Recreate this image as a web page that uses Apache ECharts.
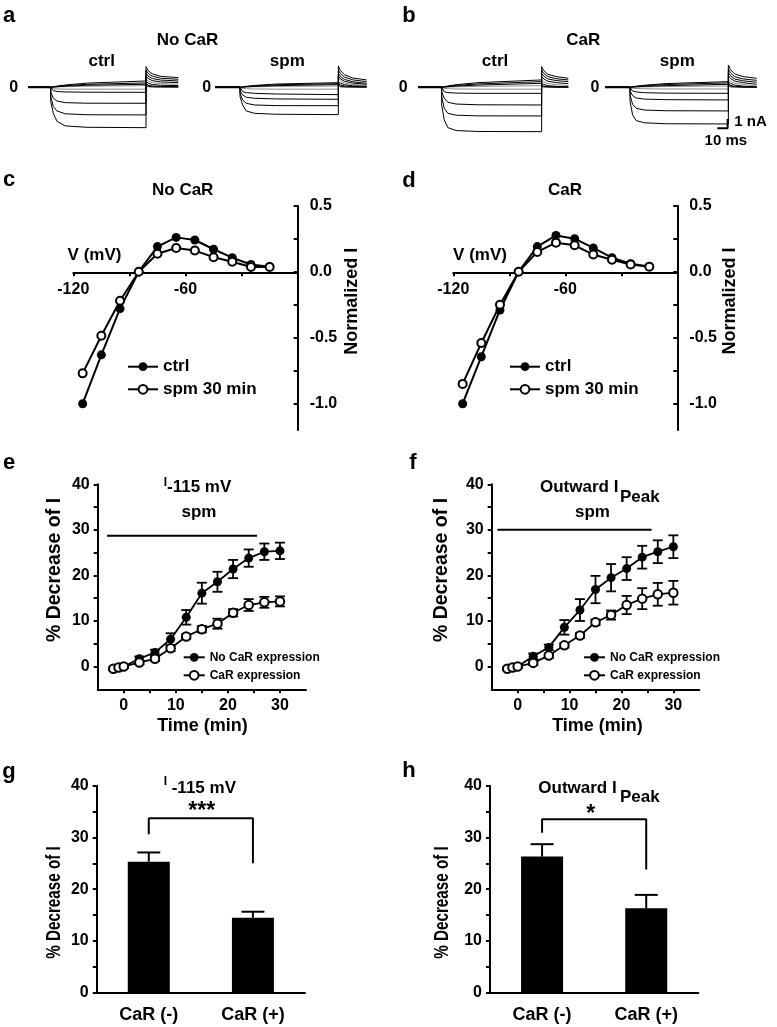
<!DOCTYPE html>
<html><head><meta charset="utf-8">
<script src="https://cdn.jsdelivr.net/npm/echarts@6/dist/echarts.min.js"></script>
<style>html,body{margin:0;padding:0;background:#fff}#c{width:777px;height:1027px}</style>
</head><body><div id="c"></div>
<script>
// ================= DATA =================
// Current traces (panels a, b): time in ms, current in nA
const STEP_T = [0, 2.5, 6, 14, 35];      // sample times after step onset (last value = at step end)
const TAIL_T = [0, 2, 6, 14];            // sample times after step end (last value = at sweep end)
// [onset, offset, end] per panel (ms)
const A_CTRL_TIMES = [21.7, 113.8, 145];
const A_SPM_TIMES  = [24.2, 119.3, 146.7];
const B_CTRL_TIMES = [22.9, 119.6, 145.4];
const B_SPM_TIMES  = [24.2, 119.3, 146.7];

const A_CTRL_STEP = [
  [-1.54,-2.8,-3.66,-4.15,-4.3,-4.34],
  [-1.0,-2.08,-2.54,-2.85,-2.95,-2.97],
  [-0.54,-1.18,-1.47,-1.65,-1.71,-1.72],
  [-0.2,-0.35,-0.45,-0.5,-0.53,-0.54],
  [-0.1,-0.15,-0.18,-0.2,-0.2,-0.2],
  [0,0.05,0.12,0.25,0.45,0.68],
  [0,0.04,0.09,0.18,0.32,0.47],
  [0,0.03,0.06,0.12,0.22,0.32],
  [0,0.02,0.04,0.07,0.12,0.18]
];
const A_CTRL_TAIL = [
  [2.22,1.8,1.45,1.18,1.04],
  [1.86,1.5,1.2,0.98,0.86],
  [1.5,1.2,0.95,0.78,0.68],
  [1.22,0.95,0.72,0.58,0.5],
  [0.9,0.7,0.5,0.4,0.32],
  [0.61,0.45,0.3,0.22,0.18],
  [0.32,0.22,0.14,0.1,0.07],
  [0.15,0.1,0.06,0.04,0.03],
  [0.06,0.04,0.02,0.01,0.0]
];
const A_SPM_STEP = [
  [-1.0,-1.9,-2.54,-2.8,-2.9,-2.94],
  [-0.65,-1.36,-1.72,-1.9,-1.97,-1.98],
  [-0.4,-0.82,-1.07,-1.18,-1.25,-1.29],
  [-0.2,-0.47,-0.57,-0.65,-0.72,-0.79],
  [-0.08,-0.12,-0.15,-0.18,-0.2,-0.2],
  [0,0.04,0.1,0.2,0.35,0.5],
  [0,0.03,0.08,0.15,0.27,0.39],
  [0,0.02,0.05,0.1,0.18,0.29],
  [0,0.01,0.03,0.06,0.1,0.14]
];
const A_SPM_TAIL = [
  [2.3,1.8,1.35,1.0,0.79],
  [1.86,1.45,1.1,0.8,0.61],
  [1.5,1.15,0.85,0.6,0.43],
  [1.22,0.9,0.65,0.45,0.32],
  [0.97,0.7,0.45,0.3,0.2],
  [0.68,0.45,0.28,0.16,0.1],
  [0.39,0.25,0.14,0.08,0.05],
  [0.18,0.1,0.05,0.03,0.02],
  [0.06,0.03,0.02,0.01,0.0]
];
const B_CTRL_STEP = [
  [-1.9,-3.5,-4.34,-4.65,-4.75,-4.77],
  [-1.0,-2.26,-2.8,-3.0,-3.07,-3.08],
  [-0.47,-1.18,-1.61,-1.8,-1.88,-1.9],
  [-0.2,-0.47,-0.57,-0.62,-0.65,-0.65],
  [-0.08,-0.12,-0.15,-0.18,-0.2,-0.2],
  [0,0.06,0.14,0.28,0.5,0.79],
  [0,0.05,0.1,0.2,0.36,0.61],
  [0,0.03,0.06,0.13,0.24,0.43],
  [0,0.02,0.03,0.06,0.1,0.18]
];
const B_CTRL_TAIL = [
  [2.22,1.8,1.4,1.15,0.97],
  [1.86,1.5,1.15,0.92,0.79],
  [1.5,1.2,0.9,0.72,0.61],
  [1.15,0.9,0.65,0.5,0.39],
  [0.79,0.6,0.4,0.28,0.18],
  [0.43,0.3,0.18,0.1,0.04],
  [0.18,0.12,0.06,0.03,0.02],
  [0.1,0.06,0.04,0.02,0.01],
  [0.05,0.03,0.02,0.01,0.0]
];
const B_SPM_STEP = [
  [-1.54,-2.97,-3.58,-3.82,-3.92,-3.94],
  [-0.82,-1.83,-2.26,-2.45,-2.52,-2.54],
  [-0.4,-0.9,-1.15,-1.27,-1.33,-1.36],
  [-0.18,-0.4,-0.5,-0.58,-0.63,-0.65],
  [-0.06,-0.1,-0.13,-0.16,-0.18,-0.18],
  [0,0.05,0.12,0.22,0.4,0.61],
  [0,0.04,0.09,0.17,0.3,0.47],
  [0,0.02,0.05,0.1,0.18,0.32],
  [0,0.01,0.03,0.05,0.09,0.14]
];
const B_SPM_TAIL = [
  [2.4,1.9,1.45,1.15,0.97],
  [1.97,1.55,1.15,0.9,0.75],
  [1.6,1.25,0.9,0.7,0.54],
  [1.25,0.95,0.68,0.5,0.32],
  [0.9,0.65,0.45,0.3,0.14],
  [0.61,0.42,0.25,0.12,0.04],
  [0.32,0.2,0.1,0.05,0.02],
  [0.12,0.08,0.05,0.02,0.01],
  [0.05,0.03,0.02,0.01,0.0]
];
const SCALE_BAR = [[108.6,-4.41],[118.6,-4.41],[118.6,-3.41]]; // 10 ms, 1 nA

// I-V curves (panels c, d)
const IV_V   = [-115,-105,-95,-85,-75,-65,-55,-45,-35,-25,-15];
const C_CTRL = [-1.0,-0.63,-0.28,0.0,0.19,0.26,0.24,0.17,0.106,0.055,0.038];
const C_SPM  = [-0.77,-0.485,-0.22,0.0,0.136,0.18,0.16,0.11,0.076,0.035,0.035];
const D_CTRL = [-1.0,-0.644,-0.29,0.0,0.19,0.275,0.25,0.18,0.106,0.06,0.04];
const D_SPM  = [-0.85,-0.54,-0.25,0.0,0.15,0.22,0.2,0.13,0.09,0.055,0.038];
const IV_X_TICKS = [-120,-90,-60,-30];
const IV_X_LABELS = [-120,-60];
const IV_Y_TICKS = [-1,-0.75,-0.5,-0.25,0,0.25,0.5];
const IV_Y_LABELS = [-1,-0.5,0,0.5];

// Time courses (panels e, f)
const TIME = [-2,-1,0,3,6,9,12,15,18,21,24,27,30];
const E_NOCAR     = [-0.5,-0.2,0,1.7,3.1,6.0,10.8,16.1,18.6,21.4,23.8,25.2,25.4];
const E_NOCAR_ERR = [0.3,0.3,0.3,0.5,0.6,1.3,1.6,2.3,2.2,2.0,1.9,1.8,1.8];
const E_CAR       = [-0.5,-0.2,0,0.9,1.7,4.0,6.6,8.2,9.4,11.8,13.5,14.1,14.3];
const E_CAR_ERR   = [0.3,0.3,0.3,0.4,0.5,0.6,0.5,0.7,1.1,0.8,1.3,1.2,1.1];
const F_NOCAR     = [-0.5,-0.2,0,2.25,4.2,8.6,12.4,16.9,19.5,21.5,24.0,25.2,26.3];
const F_NOCAR_ERR = [0.3,0.3,0.3,0.6,0.6,1.6,2.4,3.0,3.0,2.5,2.5,2.5,2.5];
const F_CAR       = [-0.5,-0.2,0,0.8,2.4,4.65,6.8,9.7,11.3,13.5,14.9,15.85,16.2];
const F_CAR_ERR   = [0.3,0.3,0.3,0.5,0.5,0.5,0.5,0.6,1.0,2.0,2.3,2.5,2.6];
const E_SPM_BAR = [[-3.2,28.7],[25.6,28.7]];
const F_SPM_BAR = [[-3.9,30.0],[25.8,30.0]];
const TC_X_TICKS = [0,5,10,15,20,25,30];
const TC_X_LABELS = [0,10,20,30];
const PCT_TICKS = [0,5,10,15,20,25,30,35,40];
const PCT_LABELS = [0,10,20,30,40];

// Bar charts (panels g, h)
const CATS = ['CaR (-)','CaR (+)'];
const G_MEAN = [25.3,14.5];
const G_ERR  = [1.8,1.15];
const H_MEAN = [26.3,16.3];
const H_ERR  = [2.4,2.6];
const G_BRACKET = [[0,30.6],[0,33.7],[1,33.7],[1,25.0]];
const H_BRACKET = [[0,30.9],[0,33.5],[1,33.5],[1,23.8]];

// ================= CHART =================
const FONT = '"Liberation Sans", Arial, Helvetica, sans-serif';
const BLACK = '#000';
const axLine = {show:true, onZero:false, lineStyle:{color:BLACK, width:2}};
const tickStyle = {color:BLACK, width:2};
const lbl = (size, extra) => Object.assign({color:BLACK, fontFamily:FONT, fontWeight:'bold', fontSize:size}, extra||{});

const grids = [
  {left:28.3, top:63.12, width:150, height:70.68},
  {left:215, top:63.12, width:151.7, height:70.68},
  {left:418, top:63.12, width:150.3, height:70.68},
  {left:605, top:63.12, width:151.7, height:70.68},
  {left:73.3, top:205.7, width:224.4, height:224.4},
  {left:453.3, top:205.7, width:224, height:224.4},
  {left:97.7, top:484.3, width:208.3, height:205},
  {left:491.7, top:484.3, width:207.6, height:205},
  {left:96.7, top:785.7, width:208.3, height:207},
  {left:490, top:785.7, width:208.3, height:207}
];

const xAxes = [], yAxes = [];
[A_CTRL_TIMES, A_SPM_TIMES, B_CTRL_TIMES, B_SPM_TIMES].forEach((t, i) => {
  xAxes.push({gridIndex:i, type:'value', min:0, max:t[2], show:false});
  yAxes.push({gridIndex:i, type:'value', min:-5, max:2.6, show:false});
});
[4,5].forEach(g => {
  // x axis sits on the y = 0 line (0.0 is 157.8 px above the -1.2 bottom)
  xAxes.push({gridIndex:g, type:'value', min:-120, max:0, position:'bottom', offset:-157.8,
    axisLine:{show:true, onZero:false, lineStyle:{color:BLACK, width:2}},
    axisTick:{show:true, customValues:IV_X_TICKS, length:4, lineStyle:tickStyle},
    axisLabel:lbl(16,{customValues:IV_X_LABELS, margin:9}),
    splitLine:{show:false}});
  yAxes.push({gridIndex:g, type:'value', position:'right', min:-1.2, max:0.5,
    axisLine:axLine,
    axisTick:{show:true, inside:true, customValues:IV_Y_TICKS, length:4, lineStyle:tickStyle},
    axisLabel:lbl(16,{customValues:IV_Y_LABELS, margin:12, formatter:v => Number(v).toFixed(1)}),
    splitLine:{show:false}});
});
[6,7].forEach(g => {
  xAxes.push({gridIndex:g, type:'value', min:-5, max:35, axisLine:axLine,
    axisTick:{show:true, customValues:TC_X_TICKS, length:4, lineStyle:tickStyle},
    axisLabel:lbl(16,{customValues:TC_X_LABELS, margin:8}),
    splitLine:{show:false}});
  yAxes.push({gridIndex:g, type:'value', min:-5, max:40, axisLine:axLine,
    axisTick:{show:true, customValues:PCT_TICKS, length:4, lineStyle:tickStyle},
    axisLabel:lbl(16,{customValues:PCT_LABELS, margin:8}),
    splitLine:{show:false}});
});
[8,9].forEach(g => {
  xAxes.push({gridIndex:g, type:'category', data:CATS, axisLine:axLine,
    axisTick:{show:false}, axisLabel:lbl(18,{margin:13}), splitLine:{show:false}});
  yAxes.push({gridIndex:g, type:'value', min:0, max:40, axisLine:axLine,
    axisTick:{show:true, customValues:PCT_TICKS, length:4, lineStyle:tickStyle},
    axisLabel:lbl(16,{customValues:PCT_LABELS, margin:8}),
    splitLine:{show:false}});
});

const series = [];
const GRAY = [4, 8];
function addTraces(g, times, steps, tails) {
  const [tOn, tOff, tEnd] = times;
  series.push({type:'line', xAxisIndex:g, yAxisIndex:g, data:[[0,0],[tOn,0]], symbol:'none',
    lineStyle:{color:BLACK, width:2}, silent:true, z:3});
  steps.forEach((row, k) => {
    const pts = [[0,0],[tOn,0]];
    STEP_T.forEach((dt, i) => pts.push([tOn + dt, row[i]]));
    pts.push([tOff, row[row.length - 1]]);
    const tl = tails[k];
    TAIL_T.forEach((dt, i) => pts.push([tOff + dt, tl[i]]));
    pts.push([tEnd, tl[tl.length - 1]]);
    const gray = GRAY.includes(k);
    series.push({type:'line', xAxisIndex:g, yAxisIndex:g, data:pts, symbol:'none', silent:true,
      lineStyle:{color: gray ? '#8c8c8c' : BLACK, width:1}, z: gray ? 1 : 2});
  });
}
addTraces(0, A_CTRL_TIMES, A_CTRL_STEP, A_CTRL_TAIL);
addTraces(1, A_SPM_TIMES, A_SPM_STEP, A_SPM_TAIL);
addTraces(2, B_CTRL_TIMES, B_CTRL_STEP, B_CTRL_TAIL);
addTraces(3, B_SPM_TIMES, B_SPM_STEP, B_SPM_TAIL);
series.push({type:'line', xAxisIndex:3, yAxisIndex:3, data:SCALE_BAR, symbol:'none',
  lineStyle:{color:BLACK, width:2}, silent:true});

function addIV(g, ctrl, spm) {
  series.push({type:'line', name:'ctrl', xAxisIndex:g, yAxisIndex:g,
    data:IV_V.map((v,i)=>[v, ctrl[i]]), symbol:'circle', symbolSize:9,
    itemStyle:{color:BLACK}, lineStyle:{color:BLACK, width:2}, z:3});
  series.push({type:'line', name:'spm 30 min', xAxisIndex:g, yAxisIndex:g,
    data:IV_V.map((v,i)=>[v, spm[i]]), symbol:'emptyCircle', symbolSize:8,
    itemStyle:{color:BLACK, borderWidth:1.5}, lineStyle:{color:BLACK, width:2}, z:4});
}
addIV(4, C_CTRL, C_SPM);
addIV(5, D_CTRL, D_SPM);

function errBoth(params, api) {
  const x = api.value(0), m = api.value(1), e = api.value(2);
  const a = api.coord([x, m - e]), b = api.coord([x, m + e]);
  const st = {stroke:BLACK, lineWidth:1.8};
  const c = 5;
  return {type:'group', children:[
    {type:'line', shape:{x1:a[0], y1:a[1], x2:b[0], y2:b[1]}, style:st},
    {type:'line', shape:{x1:a[0]-c, y1:a[1], x2:a[0]+c, y2:a[1]}, style:st},
    {type:'line', shape:{x1:b[0]-c, y1:b[1], x2:b[0]+c, y2:b[1]}, style:st}
  ]};
}
function errTop(params, api) {
  const x = api.value(0), m = api.value(1), e = api.value(2);
  const a = api.coord([x, m]), b = api.coord([x, m + e]);
  const st = {stroke:BLACK, lineWidth:2};
  const c = 11.5;
  return {type:'group', children:[
    {type:'line', shape:{x1:a[0], y1:a[1], x2:b[0], y2:b[1]}, style:st},
    {type:'line', shape:{x1:b[0]-c, y1:b[1], x2:b[0]+c, y2:b[1]}, style:st}
  ]};
}
function addTC(g, nocar, nocarErr, car, carErr, spmBar) {
  series.push({type:'line', xAxisIndex:g, yAxisIndex:g, data:spmBar, symbol:'none',
    lineStyle:{color:BLACK, width:2}, silent:true});
  series.push({type:'custom', xAxisIndex:g, yAxisIndex:g, renderItem:errBoth, z:2,
    data:TIME.map((t,i)=>[t, nocar[i], nocarErr[i]]), encode:{x:0, y:1}, silent:true});
  series.push({type:'custom', xAxisIndex:g, yAxisIndex:g, renderItem:errBoth, z:2,
    data:TIME.map((t,i)=>[t, car[i], carErr[i]]), encode:{x:0, y:1}, silent:true});
  series.push({type:'line', name:'No CaR expression', xAxisIndex:g, yAxisIndex:g,
    data:TIME.map((t,i)=>[t, nocar[i]]), symbol:'circle', symbolSize:9,
    itemStyle:{color:BLACK}, lineStyle:{color:BLACK, width:1.8}, z:3});
  series.push({type:'line', name:'CaR expression', xAxisIndex:g, yAxisIndex:g,
    data:TIME.map((t,i)=>[t, car[i]]), symbol:'emptyCircle', symbolSize:8.5,
    itemStyle:{color:BLACK, borderWidth:1.5}, lineStyle:{color:BLACK, width:1.8}, z:4});
}
addTC(6, E_NOCAR, E_NOCAR_ERR, E_CAR, E_CAR_ERR, E_SPM_BAR);
addTC(7, F_NOCAR, F_NOCAR_ERR, F_CAR, F_CAR_ERR, F_SPM_BAR);

function addBars(g, mean, err, bracket) {
  series.push({type:'bar', xAxisIndex:g, yAxisIndex:g, data:mean, barWidth:42,
    itemStyle:{color:BLACK}, silent:true});
  series.push({type:'custom', xAxisIndex:g, yAxisIndex:g, renderItem:errTop, z:3,
    data:mean.map((m,i)=>[i, m, err[i]]), encode:{x:0, y:1}, silent:true});
  series.push({type:'line', xAxisIndex:g, yAxisIndex:g, data:bracket, symbol:'none',
    lineStyle:{color:BLACK, width:2}, silent:true});
}
addBars(8, G_MEAN, G_ERR, G_BRACKET);
addBars(9, H_MEAN, H_ERR, H_BRACKET);

function T(x, y, text, size, align, rot, sx) {
  return {type:'text', x:x, y:y, rotation:rot||0, scaleX:sx||1, silent:true,
    style:{text:text, fontSize:size, fontWeight:'bold', fontFamily:FONT, fill:BLACK,
      align:align||'center', verticalAlign:'middle'}};
}
const R = Math.PI / 2;
const graphic = [
  T(9.2,15.6,'a',22), T(409,15.6,'b',22), T(9.2,180,'c',22), T(409,180.6,'d',22),
  T(9,463.3,'e',22), T(413,463.3,'f',22), T(9,771.6,'g',22), T(409,770.6,'h',22),
  T(187.5,40.7,'No CaR',17), T(583.3,40.7,'CaR',17),
  T(101.7,61.7,'ctrl',17), T(287.3,61.5,'spm',17), T(495,61.7,'ctrl',17), T(677.3,61.5,'spm',17),
  T(13.7,87.1,'0',16), T(206.7,87.1,'0',16), T(403.3,87.1,'0',16), T(595,87.1,'0',16),
  T(734.3,122.3,'1 nA',15,'left'), T(725.8,140.7,'10 ms',15),
  T(182.7,190.7,'No CaR',17), T(565,190.7,'CaR',17),
  T(94.5,255.7,'V (mV)',17), T(480,255.7,'V (mV)',17),
  T(352,301.3,'Normalized I',18,'center',R), T(730.4,301,'Normalized I',18,'center',R),
  T(55,570,'% Decrease of I',19.5,'center',R), T(441.7,570,'% Decrease of I',19.5,'center',R),
  T(202.5,726,'Time (min)',18), T(597.5,726,'Time (min)',18),
  T(165.5,482.5,'I',12), T(167,487.3,'-115 mV',17,'left'),
  T(199,512.3,'spm',17), T(592.5,512.3,'spm',17),
  T(540,487.3,'Outward I',17,'left'), T(620,497.3,'Peak',17,'left'),
  T(55,902.5,'% Decrease of I',19.5,'center',R,0.78), T(443,902.5,'% Decrease of I',19.5,'center',R,0.78),
  T(165.5,781.8,'I',12), T(171.7,788,'-115 mV',17,'left'),
  T(538.3,788,'Outward I',17,'left'), T(620,797.3,'Peak',17,'left'),
  T(201.7,811.2,'***',23), T(590.7,814.5,'*',23)
];

const legendText = size => ({color:BLACK, fontFamily:FONT, fontWeight:'bold', fontSize:size});
const legend = [
  {left:127, top:358.2, padding:0, orient:'vertical', itemWidth:30, itemHeight:11, itemGap:5.6, selectedMode:false,
   data:['ctrl','spm 30 min'], textStyle:legendText(17)},
  {left:509, top:358.2, padding:0, orient:'vertical', itemWidth:30, itemHeight:11, itemGap:5.6, selectedMode:false,
   data:['ctrl','spm 30 min'], textStyle:legendText(17)},
  {left:182.7, top:651.3, padding:0, orient:'vertical', itemWidth:21, itemHeight:11, itemGap:6, selectedMode:false,
   data:['No CaR expression','CaR expression'], textStyle:legendText(12)},
  {left:583, top:651.3, padding:0, orient:'vertical', itemWidth:21, itemHeight:11, itemGap:6, selectedMode:false,
   data:['No CaR expression','CaR expression'], textStyle:legendText(12)}
];

const chart = echarts.init(document.getElementById('c'), null, {renderer:'canvas'});
chart.setOption({
  animation:false,
  backgroundColor:'#fff',
  textStyle:{fontFamily:FONT},
  grid:grids, xAxis:xAxes, yAxis:yAxes, series:series, legend:legend, graphic:graphic
});
</script></body></html>
